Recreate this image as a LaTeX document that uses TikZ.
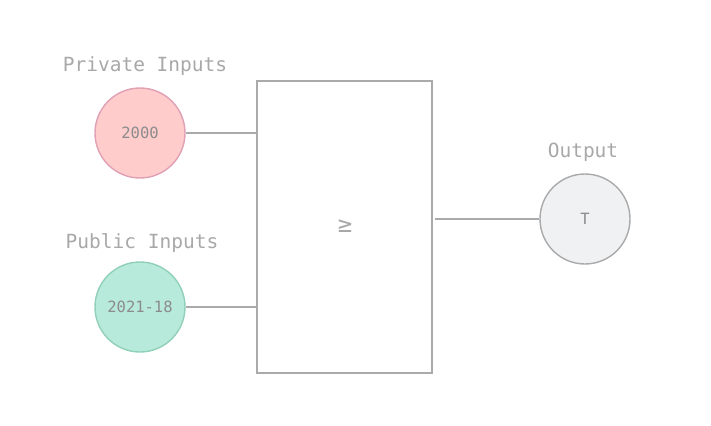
\documentclass[tikz,border=0pt]{standalone}
\usepackage{fontspec}
\newfontfamily\monofont{DejaVu Sans Mono}
\definecolor{linegray}{HTML}{AAAAAA}
\definecolor{labelgray}{HTML}{A8A8A8}
\definecolor{innergray}{HTML}{8C8C8C}
\definecolor{pinkfill}{HTML}{FFCCCC}
\definecolor{pinkdraw}{HTML}{E0A0B4}
\definecolor{greenfill}{HTML}{B8EADB}
\definecolor{greendraw}{HTML}{90D0B8}
\definecolor{grayfill}{HTML}{F0F1F3}
\begin{document}
\begin{tikzpicture}[x=1pt,y=-1pt,
  ball/.style={circle,minimum size=90pt,inner sep=0pt,line width=1.4pt,font=\monofont\fontsize{15.5}{18}\selectfont,text=innergray},
  lbl/.style={font=\monofont\fontsize{19.5}{22}\selectfont,text=labelgray},
  wire/.style={draw=linegray,line width=1.2pt}]
\useasboundingbox (0,0) rectangle (711,425);
\node[ball,fill=pinkfill,draw=pinkdraw] (priv) at (140,133) {2000};
\node[ball,fill=greenfill,draw=greendraw] (pub) at (140,307) {2021-18};
\node[ball,fill=grayfill,draw=linegray] (out) at (585,219) {T};
\node[lbl] (privl) at (145,66) {Private Inputs};
\node[lbl] (publ) at (142,243) {Public Inputs};
\node[lbl] (outl) at (583,152) {Output};
\node[draw=linegray,line width=1.2pt,minimum width=175pt,minimum height=292pt,inner sep=0pt] (box) at (344.5,227) {};
\node[font=\monofont\fontsize{24}{26}\selectfont,text=labelgray] (ge) at (345,226) {≥};
\draw[wire] (priv.east) -- (priv.east -| box.west);
\draw[wire] (pub.east) -- (pub.east -| box.west);
\draw[wire] (box.east |- out.west) ++(2,0) coordinate (oe) (oe) -- (out.west);
\end{tikzpicture}
\end{document}
